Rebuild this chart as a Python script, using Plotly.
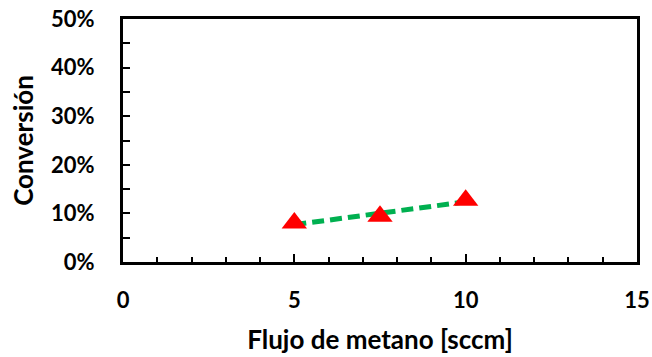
import numpy as np
import plotly.graph_objects as go

# Methane flow [sccm] and measured conversion (fraction)
flujo = [5, 7.5, 10]
conversion = [0.080, 0.094, 0.127]

x_ticks = [0, 5, 10, 15]
y_ticks = [0, 0.1, 0.2, 0.3, 0.4, 0.5]
y_labels = ["0%", "10%", "20%", "30%", "40%", "50%"]

# Linear trendline through the measurements
slope, intercept = np.polyfit(flujo, conversion, 1)
x_fit = np.array([min(flujo), max(flujo)])
y_fit = slope * x_fit + intercept

font_family = "Lato"
tick_font = dict(family=font_family, size=22, color="black", weight="bold")
title_font = dict(family=font_family, size=26, color="black", weight="bold")

fig = go.Figure()
fig.add_trace(go.Scatter(
    x=x_fit, y=y_fit, mode="lines",
    line=dict(color="#00B050", width=5, dash="12px,6px"),
    showlegend=False, hoverinfo="skip",
))
fig.add_trace(go.Scatter(
    x=flujo, y=conversion, mode="markers",
    marker=dict(symbol="triangle-up", size=22, color="#FF0000", line=dict(width=0)),
    showlegend=False,
))

axis_common = dict(
    showline=True, linecolor="black", linewidth=3, mirror=True,
    showgrid=False, zeroline=False, automargin=False,
    ticks="inside", tickcolor="black", tickwidth=2,
    tickfont=tick_font,
)

fig.update_xaxes(
    **axis_common,
    range=[0, 15], tickvals=x_ticks, ticklen=8,
    minor=dict(dtick=1, ticks="inside", ticklen=5, tickwidth=2, tickcolor="black"),
    ticklabelstandoff=17,
    title=dict(text="Flujo de metano [sccm]", standoff=19, font=title_font),
)
fig.update_yaxes(
    **axis_common,
    range=[0, 0.5], tickvals=y_ticks, ticktext=y_labels, ticklen=7,
    minor=dict(dtick=0.05, ticks="inside", ticklen=7, tickwidth=2, tickcolor="black"),
    ticklabelstandoff=21,
    title=dict(text="Conversión", standoff=10, font=title_font),
)

fig.update_layout(
    width=652, height=357,
    margin=dict(l=123, r=15, t=19, b=95),
    plot_bgcolor="white", paper_bgcolor="white",
)

fig.write_html("out.html")
